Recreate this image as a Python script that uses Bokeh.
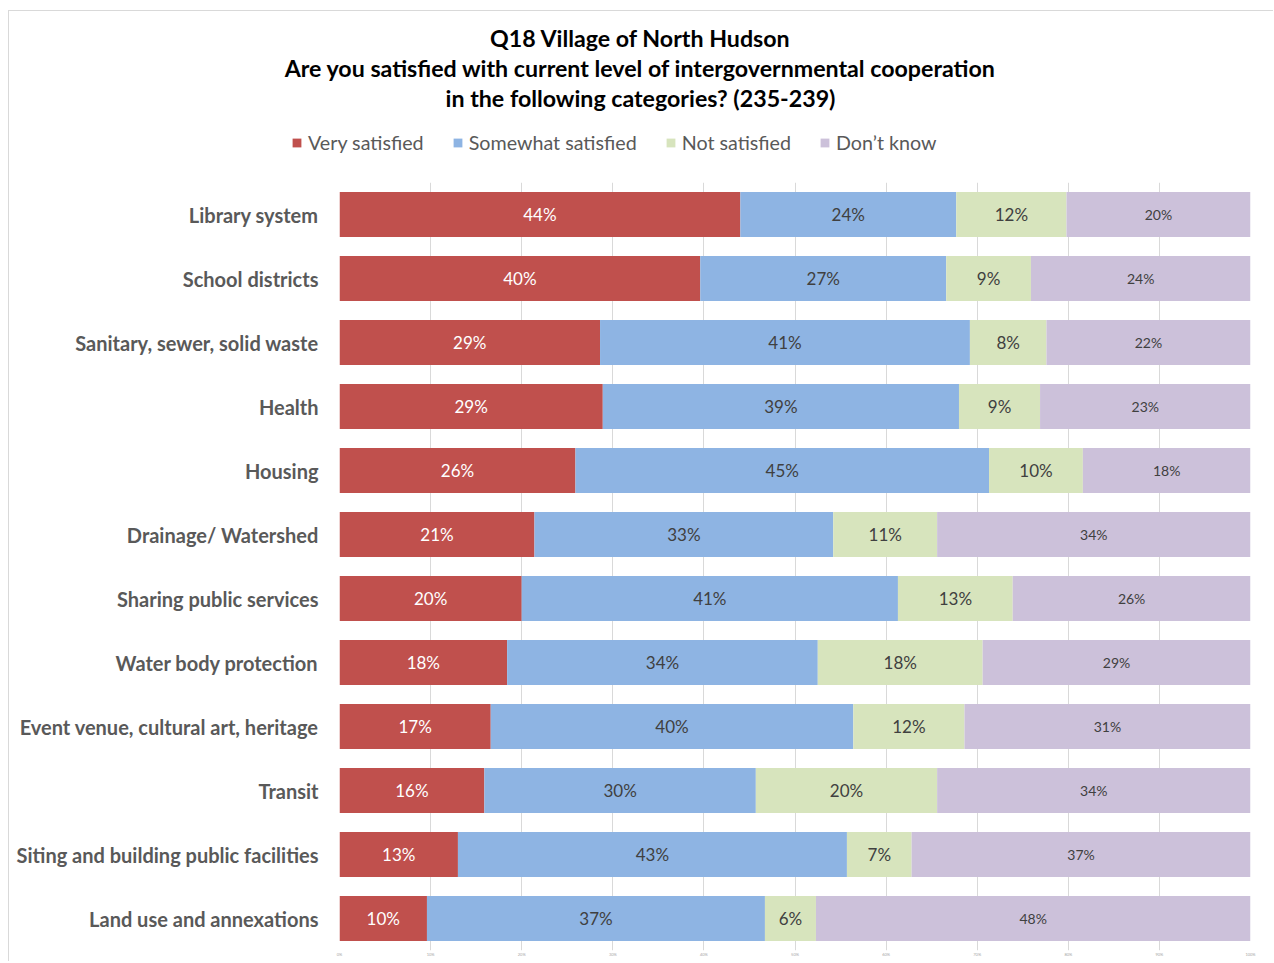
from bokeh.plotting import figure
from bokeh.layouts import column
from bokeh.models import (ColumnDataSource, LabelSet, Label, Legend, LegendItem,
                          FactorRange, Range1d, FixedTicker)
from bokeh.core.properties import value
from bokeh.embed import file_html
from bokeh.resources import INLINE

categories = ["Library system", "School districts", "Sanitary, sewer, solid waste",
              "Health", "Housing", "Drainage/ Watershed", "Sharing public services",
              "Water body protection", "Event venue, cultural art, heritage", "Transit",
              "Siting and building public facilities", "Land use and annexations"]
very_satisfied = [44.0, 39.6, 28.6, 28.9, 25.9, 21.4, 20.0, 18.4, 16.6, 15.9, 13.0, 9.6]
somewhat_satisfied = [23.7, 27.0, 40.6, 39.1, 45.4, 32.8, 41.3, 34.1, 39.8, 29.8, 42.7, 37.1]
not_satisfied = [12.1, 9.3, 8.4, 8.9, 10.3, 11.4, 12.6, 18.1, 12.2, 19.9, 7.1, 5.6]
dont_know = [20.2, 24.1, 22.4, 23.1, 18.4, 34.4, 26.1, 29.4, 31.4, 34.4, 37.2, 47.7]
series_names = ["Very satisfied", "Somewhat satisfied", "Not satisfied", "Don\u2019t know"]
series_colors = ["#C0504D", "#8EB4E3", "#D7E4BD", "#CCC1DA"]
label_colors = ["#FFFFFF", "#404040", "#404040", "#404040"]
label_sizes = ["17px", "17px", "17px", "14px"]
x_ticks = [0, 10, 20, 30, 40, 50, 60, 70, 80, 90, 100]
x_tick_labels = ["0%", "10%", "20%", "30%", "40%", "50%", "60%", "70%", "80%", "90%", "100%"]
title_lines = ["Q18 Village of North Hudson",
               "Are you satisfied with current level of intergovernmental cooperation",
               "in the following categories? (235-239)"]

FONT = "Lato"
keys = ["very", "somewhat", "not", "dk"]
series = [very_satisfied, somewhat_satisfied, not_satisfied, dont_know]
data = {"cat": categories}
for k, s in zip(keys, series):
    data[k] = s
source = ColumnDataSource(data)

# page offsets of the chart box (light grey border like the reference)
OX, OY = 8, 10
OXI, OYI = OX + 2, OY + 2          # where the inner content actually starts on the page
W = 1274 - OXI
TOP_H = 163 - OYI
MAIN_H = 962 - 163

# ---------- header figure: title + legend ----------
top = figure(width=W, height=TOP_H, output_backend="svg", toolbar_location=None,
             x_range=Range1d(0, W), y_range=Range1d(0, TOP_H),
             x_axis_location=None, y_axis_location=None,
             min_border=0, min_border_left=0, min_border_right=0,
             min_border_top=0, min_border_bottom=0)
top.frame_align = False
top.outline_line_color = None
top.xgrid.grid_line_color = None
top.ygrid.grid_line_color = None

title_y = [38, 68, 98]
for line, yy in zip(title_lines, title_y):
    top.add_layout(Label(x=641 - OXI, y=TOP_H - (yy - OYI), text=line, text_align="center",
                         text_baseline="middle", text_font=FONT, text_font_style="bold",
                         text_font_size="23.2px", text_color="#000000"))

# legend proxies (kept outside the visible header range)
legend_renderers = [top.hbar(y=[-1000], left=[0], right=[1], height=1, color=c, line_color=None)
                    for c in series_colors]
legend = Legend(items=[LegendItem(label=n, renderers=[r])
                       for n, r in zip(series_names, legend_renderers)],
                orientation="horizontal", location=(292 - OXI, TOP_H - (155 - OYI)),
                glyph_width=11, glyph_height=11, label_standoff=6, spacing=28,
                padding=0, margin=0, border_line_color=None, background_fill_alpha=0,
                label_text_font=FONT, label_text_font_size="19.7px", label_text_color="#595959",
                label_height=20)
top.add_layout(legend)

# ---------- main chart ----------
p = figure(width=W, height=MAIN_H, output_backend="svg", toolbar_location=None,
           y_range=FactorRange(*list(reversed(categories)), range_padding=0),
           x_range=Range1d(0, 100),
           min_border_left=340 - OXI, min_border_right=W - (1251 - OXI),
           min_border_top=183 - 163, min_border_bottom=962 - 951)
p.frame_align = False
p.outline_line_color = None

p.hbar_stack(keys, y="cat", height=0.7, color=series_colors, line_color=None, source=source)

for i, (k, s) in enumerate(zip(keys, series)):
    starts = [sum(ss[j] for ss in series[:i]) for j in range(len(categories))]
    mids = [st + v / 2 for st, v in zip(starts, s)]
    txt = [f"{v:.0f}%" for v in s]
    ls = ColumnDataSource(dict(x=mids, y=categories, t=txt))
    p.add_layout(LabelSet(x="x", y="y", text="t", source=ls, text_align="center",
                          text_baseline="middle", text_color=label_colors[i],
                          text_font=value(FONT), text_font_size=label_sizes[i]))

p.xgrid.ticker = FixedTicker(ticks=x_ticks)
p.xgrid.grid_line_color = "#D9D9D9"
p.ygrid.grid_line_color = None

xa = p.xaxis[0]
xa.ticker = FixedTicker(ticks=x_ticks)
xa.major_label_overrides = {t: l for t, l in zip(x_ticks, x_tick_labels)}
xa.axis_line_color = None
xa.major_tick_line_color = None
xa.major_tick_out = 0
xa.major_tick_in = 0
xa.minor_tick_line_color = None
xa.minor_tick_out = 0
xa.major_label_text_font_size = "4px"
xa.major_label_text_color = "#A6A6A6"
xa.major_label_standoff = 1
xa.major_label_text_font = FONT

ya = p.yaxis[0]
ya.axis_line_color = None
ya.major_tick_line_color = None
ya.major_tick_out = 0
ya.minor_tick_line_color = None
ya.major_label_text_font = FONT
ya.major_label_text_font_style = "bold"
ya.major_label_text_font_size = "20px"
ya.major_label_text_color = "#595959"
ya.major_label_standoff = 21

layout = column(top, p, spacing=0)
layout.margin = (OY, 0, 0, OX)
layout.styles = {"border-left": "1px solid #D9D9D9", "border-top": "1px solid #D9D9D9",
                 "box-sizing": "border-box"}
open("out.html", "w").write(file_html(layout, INLINE))
